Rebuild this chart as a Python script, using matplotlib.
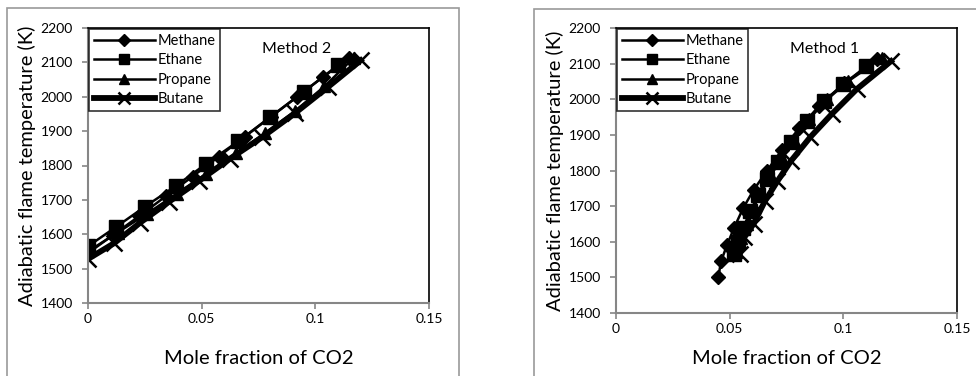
import matplotlib
matplotlib.use("Agg")
import matplotlib.pyplot as plt
from matplotlib.patches import Rectangle
from matplotlib.ticker import FuncFormatter

plt.rcParams['font.family'] = ['Lato', 'DejaVu Sans']

# ---- Method 2 (left panel) ----
m2_methane_x = [0, 0.0115, 0.023, 0.0345, 0.046, 0.0575, 0.069, 0.0805, 0.092, 0.1035, 0.115]
m2_methane_y = [1545, 1600, 1655, 1712, 1768, 1826, 1884, 1942, 2000, 2058, 2112]
m2_ethane_x = [0, 0.0125, 0.025, 0.0385, 0.052, 0.066, 0.080, 0.095, 0.110]
m2_ethane_y = [1565, 1622, 1680, 1740, 1805, 1870, 1940, 2015, 2092]
m2_propane_x = [0, 0.013, 0.026, 0.039, 0.052, 0.065, 0.078, 0.091, 0.104, 0.117]
m2_propane_y = [1550, 1605, 1660, 1718, 1776, 1835, 1895, 1958, 2030, 2114]
m2_butane_x = [0, 0.0115, 0.023, 0.0355, 0.049, 0.0625, 0.0765, 0.091, 0.1055, 0.12]
m2_butane_y = [1528, 1574, 1634, 1694, 1756, 1820, 1882, 1952, 2028, 2106]

# ---- Method 1 (right panel) ----
m1_methane_x = [0.045, 0.0462, 0.0488, 0.052, 0.056, 0.0605, 0.0665, 0.073, 0.0805, 0.0895, 0.1005, 0.115]
m1_methane_y = [1500, 1545, 1590, 1640, 1695, 1745, 1800, 1858, 1918, 1982, 2045, 2112]
m1_ethane_x = [0.052, 0.0537, 0.056, 0.059, 0.0625, 0.0665, 0.0712, 0.077, 0.084, 0.0915, 0.100, 0.110]
m1_ethane_y = [1565, 1600, 1640, 1685, 1730, 1775, 1825, 1880, 1940, 1995, 2042, 2092]
m1_propane_x = [0.053, 0.055, 0.0575, 0.0605, 0.064, 0.068, 0.073, 0.0785, 0.085, 0.093, 0.102, 0.117]
m1_propane_y = [1572, 1610, 1650, 1695, 1740, 1785, 1835, 1885, 1945, 2000, 2050, 2116]
m1_butane_x = [0.0545, 0.0565, 0.0605, 0.0655, 0.071, 0.077, 0.0855, 0.095, 0.106, 0.121]
m1_butane_y = [1566, 1613, 1650, 1714, 1770, 1827, 1894, 1959, 2029, 2107]

series_names = ['Methane', 'Ethane', 'Propane', 'Butane']
x_ticks = [0, 0.05, 0.1, 0.15]
y_ticks = [1400, 1500, 1600, 1700, 1800, 1900, 2000, 2100, 2200]

W, H = 976, 376
fig = plt.figure(figsize=(W / 100, H / 100), dpi=100)
fig.patch.set_facecolor('white')

# outer chart borders
fig.patches.append(Rectangle((7 / W, -0.05), (459 - 7) / W, (376 - 8) / H + 0.05,
                             transform=fig.transFigure, fill=False,
                             edgecolor='#9a9a9a', lw=1.2))
fig.patches.append(Rectangle((534 / W, -0.05), 0.6, (376 - 9) / H + 0.05,
                             transform=fig.transFigure, fill=False,
                             edgecolor='#9a9a9a', lw=1.2))

ax_left = fig.add_axes([88 / W, 1 - 303 / H, 341 / W, 275 / H])
ax_right = fig.add_axes([616 / W, 1 - 313 / H, 341 / W, 285 / H])

styles = [
    dict(marker='D', markersize=7.5, lw=1.8),
    dict(marker='s', markersize=9.5, lw=1.8),
    dict(marker='^', markersize=9, lw=1.8),
    dict(marker='x', markersize=11, markeredgewidth=1.8, lw=4.2),
]

panels = [
    (ax_left, 'Method 2', 18, [(m2_methane_x, m2_methane_y), (m2_ethane_x, m2_ethane_y),
                               (m2_propane_x, m2_propane_y), (m2_butane_x, m2_butane_y)]),
    (ax_right, 'Method 1', 11, [(m1_methane_x, m1_methane_y), (m1_ethane_x, m1_ethane_y),
                                (m1_propane_x, m1_propane_y), (m1_butane_x, m1_butane_y)]),
]

for ax, title, xpad, data in panels:
    for (xs, ys), name, st in zip(data, series_names, styles):
        ax.plot(xs, ys, color='black', label=name, **st)

    ax.set_xlim(0, 0.15)
    ax.set_ylim(1400, 2200)
    ax.set_xticks(x_ticks)
    ax.set_yticks(y_ticks)
    ax.xaxis.set_major_formatter(FuncFormatter(lambda v, p: f"{v:g}"))
    ax.tick_params(labelsize=10, colors='#868686', labelcolor='black',
                   direction='out', length=4, width=1.2, pad=7)
    ax.tick_params(axis='x', pad=3)

    ax.spines['left'].set_color('#868686')
    ax.spines['bottom'].set_color('#868686')
    ax.spines['left'].set_linewidth(1.5)
    ax.spines['bottom'].set_linewidth(1.5)
    ax.spines['top'].set_color('black')
    ax.spines['right'].set_color('black')
    ax.spines['top'].set_linewidth(1.2)
    ax.spines['right'].set_linewidth(1.2)

    ax.set_ylabel('Adiabatic flame temperature (K)', fontsize=14.5, labelpad=3)
    ax.set_xlabel('Mole fraction of CO2', fontsize=14.5, labelpad=xpad)

    ax.text(0.51, 0.925, title, transform=ax.transAxes, fontsize=11.5, va='center')

    leg = ax.legend(loc='upper left', bbox_to_anchor=(0.0, 1.0), fontsize=10.5,
                    frameon=True, fancybox=False, handlelength=4.2,
                    borderaxespad=0.1, labelspacing=0.38, handletextpad=0.2,
                    borderpad=0.3, markerscale=0.75)
    leg.get_frame().set_edgecolor('black')
    leg.get_frame().set_linewidth(1.2)

fig.savefig('out.png', dpi=100)
